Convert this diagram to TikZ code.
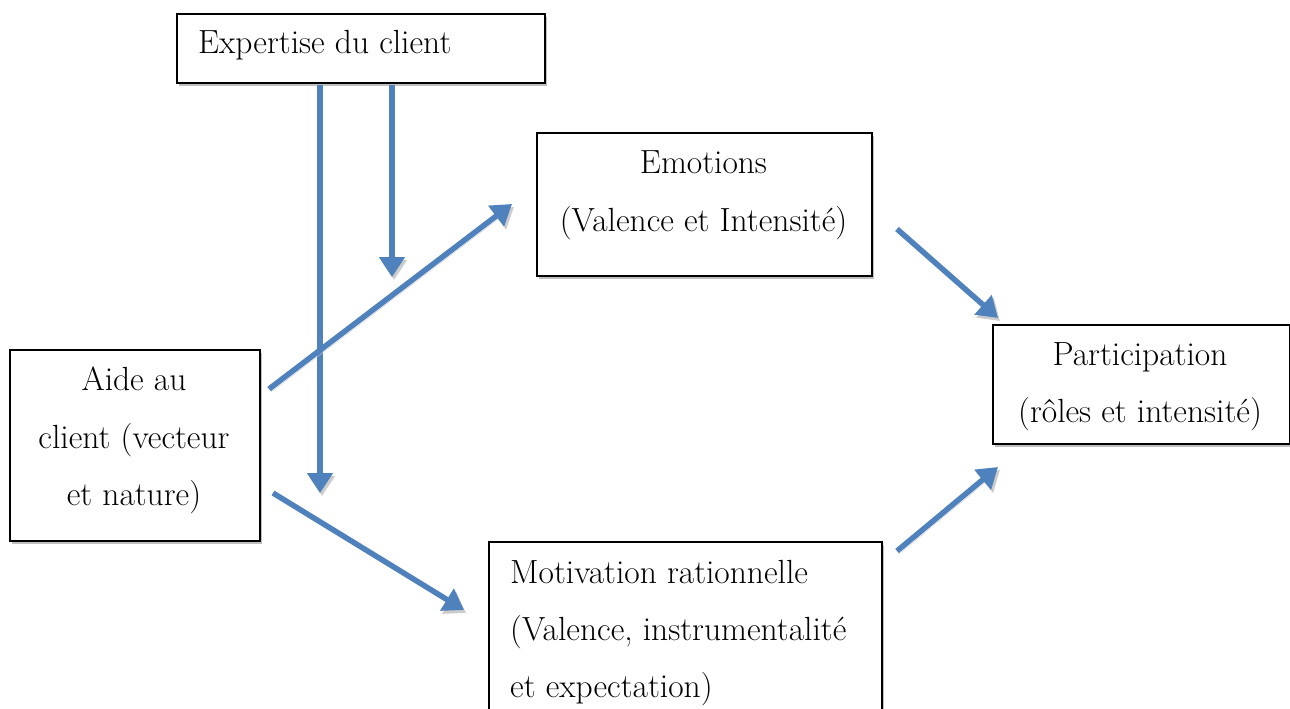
\documentclass[tikz,border=0pt]{standalone}
\usetikzlibrary{arrows.meta,shadows}
\definecolor{arrowblue}{HTML}{4F81BD}
\begin{document}
\begin{tikzpicture}[x=1pt,y=-1pt,
  box/.style={draw=black, line width=1.8pt, fill=white, inner sep=0pt, anchor=north west,
    drop shadow={shadow xshift=2pt, shadow yshift=-3pt, fill=black!25, opacity=1}},
  txt/.style={font=\fontsize{33.5}{40}\selectfont, inner sep=0pt, anchor=base},
  ltxt/.style={txt, anchor=base west},
  link/.style={draw=arrowblue, line width=5.5pt, -{Triangle[length=20pt,width=25pt]},
    preaction={draw=black!20, transform canvas={shift={(2pt,-3pt)}}}}]
\useasboundingbox (0,0) rectangle (1290,709);

% boxes
\node[box, minimum width=368pt, minimum height=69pt] (exp) at (176,13) {};
\node[box, minimum width=335pt, minimum height=143pt] (emo) at (536,132) {};
\node[box, minimum width=250pt, minimum height=191pt] (aide) at (9,349) {};
\node[box, minimum width=297pt, minimum height=119pt] (part) at (992,324) {};
\node[box, minimum width=393pt, minimum height=200pt] (mot) at (488,541) {};

% texts
\node[ltxt] (expT) at (198,53) {Expertise du client};
\node[txt] (emoT1) at (703.5,173) {Emotions};
\node[txt] (emoT2) at (703.5,231) {(Valence et Intensité)};
\node[txt] (aideT1) at (134,390) {Aide au};
\node[txt] (aideT2) at (134,448) {client (vecteur};
\node[txt] (aideT3) at (134,505) {et nature)};
\node[txt] (partT1) at (1140,365) {Participation};
\node[txt] (partT2) at (1140,422) {(rôles et intensité)};
\node[ltxt] (motT1) at (510,583) {Motivation rationnelle};
\node[ltxt] (motT2) at (510,640) {(Valence, instrumentalité};
\node[ltxt] (motT3) at (510,697) {et expectation)};

% connector end points
\coordinate (e1a) at (320,85);  \coordinate (e1b) at (320,493);
\coordinate (e2a) at (392,85);  \coordinate (e2b) at (392,277);
\coordinate (a1a) at (269,389); \coordinate (a1b) at (512,204);
\coordinate (a2a) at (273,493); \coordinate (a2b) at (464,610);
\coordinate (m1a) at (897,229); \coordinate (m1b) at (998,318);
\coordinate (m2a) at (897,551); \coordinate (m2b) at (998,467);

\draw[link] (e1a) -- (e1b);
\draw[link] (e2a) -- (e2b);
\draw[link] (a1a) -- (a1b);
\draw[link] (a2a) -- (a2b);
\draw[link] (m1a) -- (m1b);
\draw[link] (m2a) -- (m2b);
\end{tikzpicture}
\end{document}
